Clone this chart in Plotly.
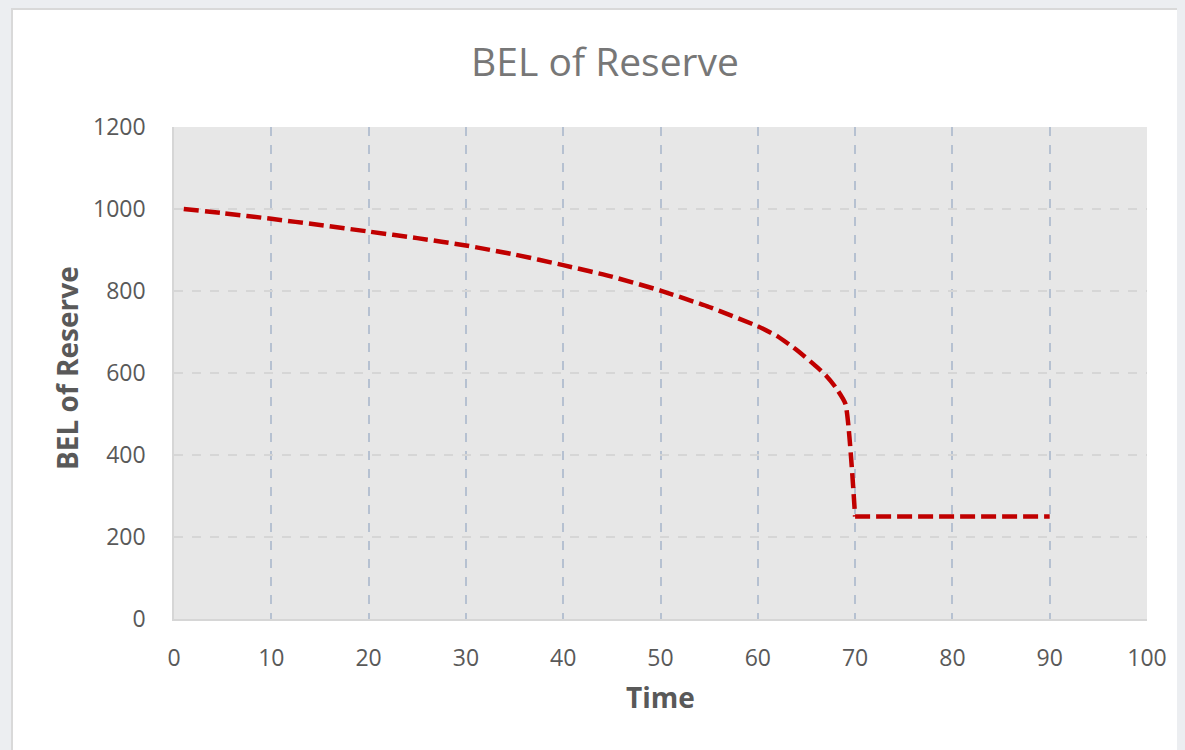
import plotly.graph_objects as go

# Data
time = [1, 5, 10, 15, 20, 25, 30, 35, 40, 45, 50, 55, 60, 62, 64, 66, 67, 68, 69, 70, 75, 80, 85, 90]
bel = [1000, 990, 976, 961, 945, 929, 911, 889, 863, 835, 801, 761, 714, 690, 656, 616, 594, 565, 525, 250, 250, 250, 250, 250]

x_ticks = list(range(0, 101, 10))
y_ticks = list(range(0, 1201, 200))

# the page body has an 8px margin, so the figure is offset by 8px
OFF = 8
W, H = 1185 - OFF, 750 - OFF
L, R, T, B = 174 - OFF, 1147 - OFF, 127 - OFF, 619 - OFF


def px_x(p):
    return (p - OFF - L) / (R - L)


def px_y(p):
    return (B - (p - OFF)) / (B - T)


split = time.index(70)
line_style = dict(color="#c00000", width=4.5, dash="15px,6px")

fig = go.Figure()
fig.add_trace(go.Scatter(
    x=time[:split + 1], y=bel[:split + 1], mode="lines",
    line=dict(**line_style, shape="spline", smoothing=0.5),
    hoverinfo="x+y", showlegend=False,
))
fig.add_trace(go.Scatter(
    x=time[split:], y=bel[split:], mode="lines",
    line=dict(**line_style, shape="linear"),
    hoverinfo="x+y", showlegend=False,
))

tick_font = dict(family="Open Sans, sans-serif", size=23, color="#595959")

fig.update_layout(
    width=W, height=H,
    margin=dict(l=L, r=W - R, t=T, b=H - B, autoexpand=False),
    paper_bgcolor="#eceef1",
    plot_bgcolor="rgba(0,0,0,0)",
    title=dict(text="BEL of Reserve", x=(605 - OFF) / W, xanchor="center", xref="container",
               y=1 - (62 - OFF) / H, yanchor="middle", yref="container",
               font=dict(family="Open Sans, sans-serif", size=39, color="#777777")),
    xaxis=dict(range=[0, 100], tickvals=x_ticks, ticktext=[str(v) for v in x_ticks],
               showgrid=True, gridcolor="#b6c1d1", griddash="dash", gridwidth=1.5,
               zeroline=False, showline=True, linecolor="#d6d6d6", linewidth=1.5,
               ticks="outside", ticklen=18, tickcolor="rgba(0,0,0,0)",
               tickfont=tick_font, fixedrange=True),
    yaxis=dict(range=[0, 1200], tickvals=y_ticks, ticktext=[str(v) for v in y_ticks],
               showgrid=True, gridcolor="#d6d6d6", griddash="dash", gridwidth=1.5,
               zeroline=False, showline=True, linecolor="#d6d6d6", linewidth=1.5,
               ticks="outside", ticklen=22, tickcolor="rgba(0,0,0,0)",
               tickfont=tick_font, fixedrange=True),
    shapes=[
        dict(type="rect", xref="paper", yref="paper", layer="below",
             x0=px_x(12), x1=px_x(1200), y0=px_y(760), y1=px_y(9),
             fillcolor="#ffffff", line=dict(color="#d9d9d9", width=2)),
        dict(type="rect", xref="paper", yref="paper", layer="below",
             x0=0, x1=1, y0=0, y1=1,
             fillcolor="#e7e7e7", line=dict(width=0)),
    ],
    annotations=[
        dict(text="<b>Time</b>", xref="paper", yref="paper", x=px_x(660), y=px_y(697),
             xanchor="center", yanchor="middle", showarrow=False,
             font=dict(family="Open Sans, sans-serif", size=28, color="#595959")),
        dict(text="<b>BEL of Reserve</b>", xref="paper", yref="paper", x=px_x(67), y=px_y(368),
             xanchor="center", yanchor="middle", showarrow=False, textangle=-90,
             font=dict(family="Open Sans, sans-serif", size=28, color="#595959")),
    ],
)

fig.write_html("out.html", post_script="document.body.style.background='#eceef1';")
